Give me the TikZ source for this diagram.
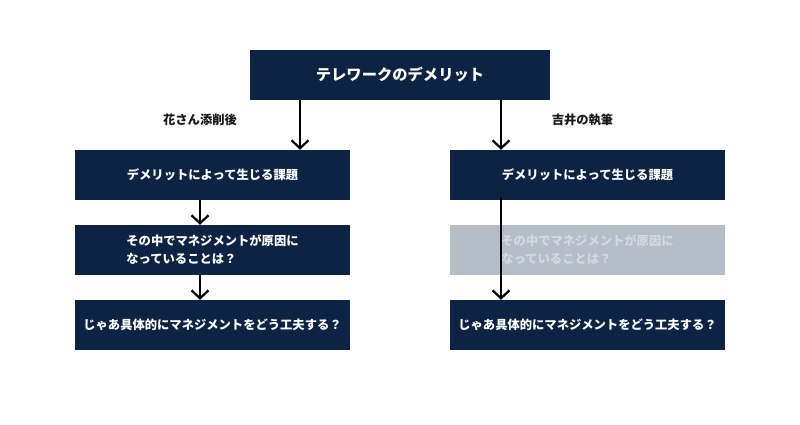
\documentclass[tikz,border=0pt]{standalone}
\usepackage{fontspec}
\setmainfont{Noto Sans CJK JP}
\usetikzlibrary{arrows.meta}
\definecolor{navy}{HTML}{0D2344}
\definecolor{fadebox}{HTML}{B5BDC7}
\definecolor{fadetext}{HTML}{D4D9DF}

\begin{document}
\begin{tikzpicture}
[x=1pt,y=-1pt,box/.style={fill=navy,text=white,inner sep=0pt,minimum width=275pt,minimum height=50pt,align=left,font=\bfseries\fontsize{12.3}{18}\selectfont},topbox/.style={box,minimum width=300pt,font=\bfseries\fontsize{15.3}{18}\selectfont},faded/.style={box,fill=fadebox,text=fadetext},note/.style={font=\bfseries\fontsize{12.3}{15}\selectfont,text=black!90},arr/.style={-{Straight Barb[length=8pt,width=17pt]},line width=2.2pt,black},]
\useasboundingbox (0,0) rectangle (800,425);
% top
\node[topbox](demerit) at (400,75){テレワークのデメリット};
% left column
\node[note](hana) at (200,120){花さん添削後};
\node[box](lcause) at (212.5,175){デメリットによって生じる課題};
\node[box](lmgmt) at (212.5,250){その中でマネジメントが原因に\\なっていることは？};
\node[box](lhow) at (212.5,325){じゃあ具体的にマネジメントをどう工夫する？};
% right column
\node[note](yoshii) at (582.5,120){吉井の執筆};
\node[box](rcause) at (587.5,175){デメリットによって生じる課題};
\node[faded](rmgmt) at (587.5,250){その中でマネジメントが原因に\\なっていることは？};
\node[box](rhow) at (587.5,325){じゃあ具体的にマネジメントをどう工夫する？};
% arrows
\draw[arr] ([xshift=-100pt]demerit.south) -- ([xshift=-100pt]demerit.south |- lcause.north);
\draw[arr] ([xshift=101pt]demerit.south) -- ([xshift=101pt]demerit.south |- rcause.north);
\draw[arr] ([xshift=-12.5pt]lcause.south) -- ([xshift=-12.5pt]lmgmt.north);
\draw[arr] ([xshift=-12.5pt]lmgmt.south) -- ([xshift=-12.5pt]lhow.north);
\draw[arr] ([xshift=-86.5pt,yshift=3pt]rcause.south) -- ([xshift=-86.5pt]rhow.north);
\end{tikzpicture}
\end{document}
